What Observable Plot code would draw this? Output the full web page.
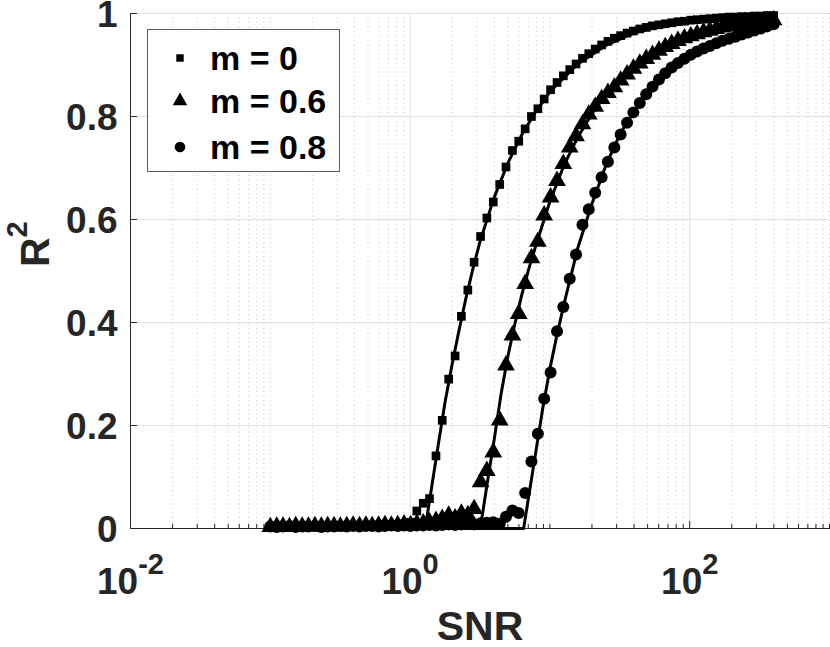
<!DOCTYPE html>
<html>
<head>
<meta charset="utf-8">
<script src="https://cdn.jsdelivr.net/npm/d3@7"></script>
<script src="https://cdn.jsdelivr.net/npm/@observablehq/plot@0.6"></script>
<style>
  html, body { margin: 0; padding: 0; background: #fff; }
  #wrap { position: relative; width: 830px; height: 647px; font-family: "Liberation Sans", Arial, Helvetica, sans-serif; }
  #legend { position: absolute; left: 147px; top: 29px; width: 193px; height: 143px; border: 1px solid #5a5a5a; background: #fff; box-sizing: border-box; }
  .lrow { position: absolute; left: 0; height: 40px; display: flex; align-items: center; }
  .lrow svg { width: 24px; height: 24px; margin-left: 20px; }
  .lrow span { margin-left: 18px; font-size: 34px; font-weight: bold; color: #000; line-height: 40px; }
</style>
</head>
<body>
<div id="wrap"><div id="legend"></div></div>
<script>
// SNR grid in dB (80 simulated points)
const snrDb = [-10.00,-9.54,-9.09,-8.63,-8.18,-7.72,-7.27,-6.81,-6.35,-5.90,
  -5.44,-4.99,-4.53,-4.08,-3.62,-3.16,-2.71,-2.25,-1.80,-1.34,
  -0.89,-0.43,0.03,0.48,0.94,1.39,1.85,2.30,2.76,3.22,
  3.67,4.13,4.58,5.04,5.49,5.95,6.41,6.86,7.32,7.77,
  8.23,8.68,9.14,9.59,10.05,10.51,10.96,11.42,11.87,12.33,
  12.78,13.24,13.70,14.15,14.61,15.06,15.52,15.97,16.43,16.89,
  17.34,17.80,18.25,18.71,19.16,19.62,20.08,20.53,20.99,21.44,
  21.90,22.35,22.81,23.27,23.72,24.18,24.63,25.09,25.54,26.00];

// simulated R^2, m = 0 (squares)
const r2m0 = [0.004,0.003,0.005,0.004,0.003,0.005,0.004,0.004,0.005,0.004,
  0.005,0.004,0.006,0.005,0.005,0.006,0.005,0.007,0.006,0.007,
  0.008,0.009,0.012,0.034,0.049,0.058,0.141,0.210,0.290,0.335,
  0.412,0.463,0.517,0.567,0.603,0.634,0.668,0.702,0.734,0.752,
  0.776,0.800,0.815,0.834,0.852,0.866,0.879,0.891,0.902,0.913,
  0.922,0.931,0.939,0.946,0.952,0.957,0.962,0.966,0.970,0.973,
  0.976,0.978,0.980,0.982,0.984,0.985,0.987,0.988,0.989,0.990,
  0.991,0.992,0.993,0.993,0.994,0.994,0.995,0.995,0.996,0.996];

// simulated R^2, m = 0.6 (triangles)
const r2m06 = [0.003,0.004,0.004,0.003,0.005,0.004,0.004,0.005,0.004,0.005,
  0.005,0.004,0.005,0.006,0.005,0.006,0.005,0.006,0.007,0.006,
  0.007,0.008,0.007,0.009,0.010,0.012,0.015,0.019,0.025,0.020,
  0.029,0.026,0.038,0.090,0.112,0.148,0.210,0.317,0.375,0.417,
  0.475,0.525,0.557,0.608,0.643,0.675,0.708,0.740,0.762,0.785,
  0.804,0.819,0.834,0.846,0.857,0.870,0.882,0.893,0.903,0.912,
  0.920,0.928,0.935,0.941,0.947,0.952,0.956,0.960,0.964,0.967,
  0.970,0.973,0.975,0.977,0.979,0.981,0.983,0.984,0.986,0.987];

// simulated R^2, m = 0.8 (circles)
const r2m08 = [0.004,0.003,0.004,0.005,0.003,0.004,0.004,0.005,0.003,0.004,
  0.004,0.005,0.004,0.005,0.004,0.005,0.005,0.004,0.005,0.006,
  0.005,0.006,0.005,0.006,0.006,0.007,0.006,0.007,0.008,0.007,
  0.008,0.009,0.008,0.010,0.011,0.012,0.009,0.023,0.035,0.030,
  0.069,0.130,0.184,0.252,0.303,0.383,0.430,0.485,0.532,0.590,
  0.620,0.652,0.682,0.712,0.740,0.765,0.788,0.808,0.826,0.843,
  0.858,0.872,0.884,0.895,0.904,0.912,0.920,0.926,0.932,0.937,
  0.942,0.947,0.951,0.955,0.959,0.963,0.967,0.971,0.975,0.979];

// theoretical curves (solid lines): SNR in dB and R^2
const thDb0  = [-10,1.075,1.5,2.0,2.5,3.0,3.5,4.0,4.5,5.0,6.0,7.0,8.0,9.0,10.0,12.0,14.0,16.0,18.0,20.0,23.0,26.0];
const thR0   = [0,0,0.073,0.16,0.245,0.318,0.385,0.448,0.505,0.557,0.642,0.71,0.765,0.81,0.848,0.902,0.938,0.962,0.976,0.985,0.992,0.996];
const thDb06 = [-10,5.02,5.5,6.0,6.5,7.0,7.5,8.0,8.5,9.0,10.0,11.0,12.0,13.0,14.0,15.0,16.0,18.0,20.0,22.0,24.0,26.0];
const thR06  = [0,0,0.085,0.17,0.26,0.335,0.398,0.455,0.505,0.55,0.635,0.705,0.76,0.805,0.842,0.871,0.895,0.928,0.951,0.967,0.979,0.987];
const thDb08 = [-10,8.12,8.5,9.0,9.5,10.0,10.5,11.0,11.5,12.0,13.0,14.0,15.0,16.0,17.0,18.0,20.0,22.0,24.0,26.0];
const thR08  = [0,0,0.065,0.15,0.235,0.31,0.375,0.435,0.49,0.545,0.63,0.705,0.765,0.81,0.845,0.873,0.915,0.943,0.963,0.978];

const seriesNames = ["m = 0", "m = 0.6", "m = 0.8"];
const seriesSymbols = ["square", "triangle", "circle"];
const xMajorTicks = [0.01, 1, 100];
const yTicks = [0, 0.2, 0.4, 0.6, 0.8, 1];
const xDomain = [0.01, 1000];

const lin = db => Math.pow(10, db / 10);
const simSets = [r2m0, r2m06, r2m08];
const thSets = [[thDb0, thR0], [thDb06, thR06], [thDb08, thR08]];
const sim = simSets.map((arr, s) => arr.map((v, i) => ({snr: lin(snrDb[i]), r2: v, m: seriesNames[s]})));
const theory = thSets.flatMap(([dbs, rs], s) => dbs.map((d, i) => ({snr: lin(d), r2: rs[i], m: seriesNames[s]})));

const xMinorTicks = d3.scaleLog().domain(xDomain).ticks().filter(t => !xMajorTicks.some(m => Math.abs(m - t) / t < 1e-9));

const frameH = 647 - 13 - 119;
const frameW = 830 - 130 - 1;
const axisColor = "#262626";
const markerR = [4.9, 6.6, 6.0];

const chart = Plot.plot({
  width: 830,
  height: 647,
  marginLeft: 130,
  marginRight: 1,
  marginTop: 13,
  marginBottom: 119,
  style: {fontFamily: "'Liberation Sans', Arial, Helvetica, sans-serif", fontWeight: "bold", color: axisColor, background: "#fff", overflow: "visible"},
  x: {type: "log", domain: xDomain},
  y: {domain: [0, 1]},
  marks: [
    Plot.gridX(xMinorTicks, {stroke: "#c4c4c4", strokeOpacity: 1, strokeDasharray: "1,3.5"}),
    Plot.gridX(xMajorTicks, {stroke: "#e0e0e0", strokeOpacity: 1}),
    Plot.gridY(yTicks, {stroke: "#e0e0e0", strokeOpacity: 1}),
    Plot.ruleX(xMinorTicks, {stroke: axisColor, insetTop: frameH - 4}),
    Plot.ruleX(xMajorTicks, {stroke: axisColor, insetTop: frameH - 7}),
    Plot.ruleY(yTicks, {stroke: axisColor, insetRight: frameW - 7}),
    Plot.frame({anchor: "left", stroke: axisColor}),
    Plot.frame({anchor: "bottom", stroke: axisColor}),
    Plot.axisX(xMajorTicks, {tickSize: 0, tickPadding: 39, fontSize: 37, fill: axisColor, label: null,
      tickFormat: d => "10^" + Math.round(Math.log10(d))}),
    Plot.axisY(yTicks, {tickSize: 0, tickPadding: 13, dy: 2, fontSize: 37, fill: axisColor, label: null,
      tickFormat: d => String(d)}),
    Plot.text(["SNR"], {frameAnchor: "bottom", dy: 111, fontSize: 41, fill: axisColor, fontWeight: "bold"}),
    Plot.text(["R^2"], {frameAnchor: "left", rotate: -90, dx: -95, dy: -4, fontSize: 41, fill: axisColor, fontWeight: "bold"}),
    Plot.line(theory, {x: "snr", y: "r2", z: "m", stroke: "#000", strokeWidth: 3}),
    Plot.dot(sim[0], {x: "snr", y: "r2", symbol: seriesSymbols[0], r: markerR[0], fill: "#000", stroke: "none"}),
    Plot.dot(sim[1], {x: "snr", y: "r2", symbol: seriesSymbols[1], r: markerR[1], fill: "#000", stroke: "none"}),
    Plot.dot(sim[2], {x: "snr", y: "r2", symbol: seriesSymbols[2], r: markerR[2], fill: "#000", stroke: "none"})
  ]
});

// superscripts
function superscript(textEl, supSize, shift) {
  const t = textEl.textContent;
  if (!t.includes("^")) return;
  const [b, e] = t.split("^");
  const sel = d3.select(textEl);
  sel.text(null);
  sel.append("tspan").text(b);
  sel.append("tspan").attr("dy", shift).attr("font-size", supSize).text(e);
}
d3.select(chart).selectAll("text").each(function() {
  const t = this.textContent;
  if (t.startsWith("10^")) superscript(this, "29px", "-20");
  else if (t === "R^2") superscript(this, "29px", "-22");
});

document.getElementById("wrap").prepend(chart);
chart.style.position = "absolute";
chart.style.left = "0";
chart.style.top = "0";

// legend
const legend = document.getElementById("legend");
const rowTops = [8, 51, 97];
const legendR = [4.2, 5.4, 5.3];
const d3Sym = [d3.symbolSquare, d3.symbolTriangle, d3.symbolCircle];
seriesNames.forEach((name, i) => {
  const row = document.createElement("div");
  row.className = "lrow";
  row.style.top = rowTops[i] + "px";
  const svg = d3.create("svg").attr("viewBox", "-12 -12 24 24");
  svg.append("path").attr("d", d3.symbol(d3Sym[i], Math.PI * legendR[i] * legendR[i])()).attr("fill", "#000");
  row.appendChild(svg.node());
  const span = document.createElement("span");
  span.textContent = name;
  row.appendChild(span);
  legend.appendChild(row);
});
document.getElementById("wrap").appendChild(legend);
</script>
</body>
</html>
